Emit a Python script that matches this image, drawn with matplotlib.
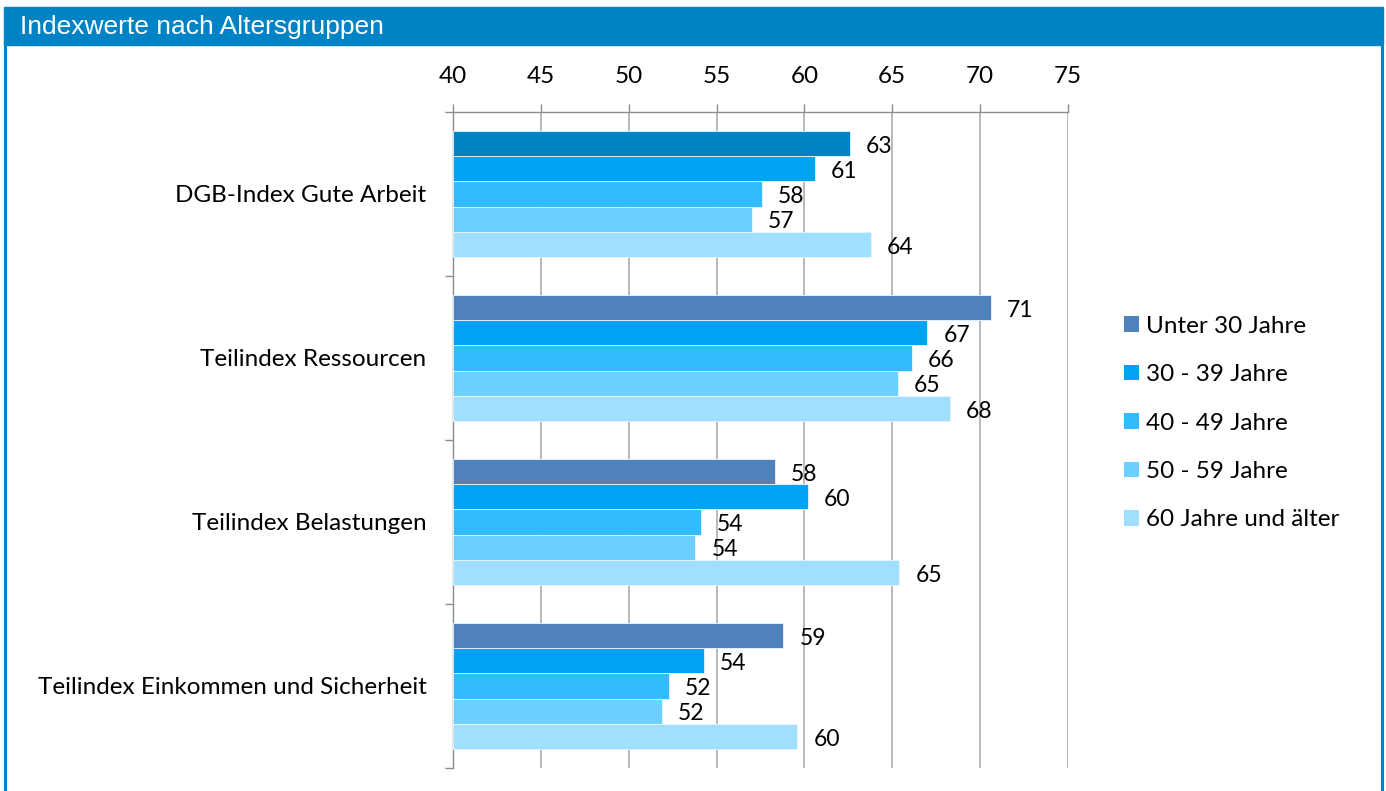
import numpy as np
import matplotlib
matplotlib.use("Agg")
import matplotlib.pyplot as plt
from matplotlib.patches import Rectangle
from matplotlib.lines import Line2D

# index values per category and age group
categories = ["DGB-Index Gute Arbeit", "Teilindex Ressourcen",
              "Teilindex Belastungen", "Teilindex Einkommen und Sicherheit"]
age_groups = ["Unter 30 Jahre", "30 - 39 Jahre", "40 - 49 Jahre",
              "50 - 59 Jahre", "60 Jahre und älter"]
unter_30 = [62.6, 70.6, 58.3, 58.8]
jahre_30_39 = [60.6, 67.0, 60.2, 54.3]
jahre_40_49 = [57.6, 66.1, 54.1, 52.3]
jahre_50_59 = [57.0, 65.3, 53.8, 51.9]
ab_60 = [63.8, 68.3, 65.4, 59.6]
xticks = [40, 45, 50, 55, 60, 65, 70, 75]

series = [unter_30, jahre_30_39, jahre_40_49, jahre_50_59, ab_60]
colors = ["#4F81BD", "#00A3F2", "#33BBFF", "#6DCFFF", "#A0DFFF"]
header_blue = "#0083C4"

W, H = 1386, 791
fig = plt.figure(figsize=(W / 100, H / 100), dpi=100)
fig.patch.set_facecolor("white")

# blue frame and title bar
fig.patches.append(Rectangle((4 / W, 1 - 45 / H), 1379 / W, 38 / H,
                             transform=fig.transFigure, color=header_blue, zorder=0))
fig.lines.append(Line2D([5 / W, 5 / W], [0, 1 - 45 / H], transform=fig.transFigure,
                        color=header_blue, lw=2.2))
fig.lines.append(Line2D([1381.7 / W, 1381.7 / W], [0, 1 - 45 / H], transform=fig.transFigure,
                        color=header_blue, lw=2.2))
fig.text(20 / W, 1 - 27 / H, "Indexwerte nach Altersgruppen", color="white",
         fontsize=19, family="Liberation Sans", va="center", ha="left")

ax = fig.add_axes([453 / W, 1 - 768 / H, (1068 - 453) / W, (768 - 112) / H])

n = len(series)
h = 0.768 / n
y = np.arange(len(categories))
for j, vals in enumerate(series):
    bars = ax.barh(y + (j - (n - 1) / 2) * h, np.array(vals) - 40, left=40, height=h,
                   color=colors[j], edgecolor="#E8F6FF", linewidth=0.6,
                   label=age_groups[j], zorder=3)
    anns = ax.bar_label(bars, labels=[f"{v:.0f}" for v in vals], padding=11.5,
                        fontsize=16.5, family="Lato", color="black")
    for a in anns:
        a.xyann = (a.xyann[0], -2)

handles, labels = ax.get_legend_handles_labels()
leg = fig.legend(handles, labels, loc="center left",
                 bbox_to_anchor=(1124 / W, 1 - 423 / H), frameon=False,
                 prop={"family": "Lato", "size": 17.5},
                 handlelength=0.62, handleheight=0.62, handletextpad=0.3,
                 labelspacing=1.13, borderpad=0, borderaxespad=0)
for hdl, c in zip(leg.legend_handles, colors):
    hdl.set_facecolor(c)
    hdl.set_edgecolor("none")

# first bar of the first group is drawn in the darker header blue
ax.patches[0].set_facecolor(header_blue)

ax.set_xlim(40, 75)
ax.set_ylim(3.5, -0.5)
ax.set_xticks(xticks)
ax.xaxis.tick_top()
ax.tick_params(axis="x", length=6, width=1, color="#8C8C8C", pad=12,
               labelsize=17.5, labelfontfamily="Lato")
ax.grid(axis="x", color="#B3B3B3", lw=1.3, zorder=0)

ax.set_yticks(y)
ax.set_yticklabels(categories)
ax.set_yticks(np.arange(-0.5, len(categories)), minor=True)
ax.tick_params(axis="y", which="major", length=0, pad=19, labelsize=17.5,
               labelfontfamily="Lato")
ax.tick_params(axis="y", which="minor", length=6, width=1, color="#8C8C8C")

for side in ("right", "bottom"):
    ax.spines[side].set_visible(False)
for side in ("top", "left"):
    ax.spines[side].set_color("#8C8C8C")
    ax.spines[side].set_linewidth(1)

fig.savefig("out.png", dpi=100)
